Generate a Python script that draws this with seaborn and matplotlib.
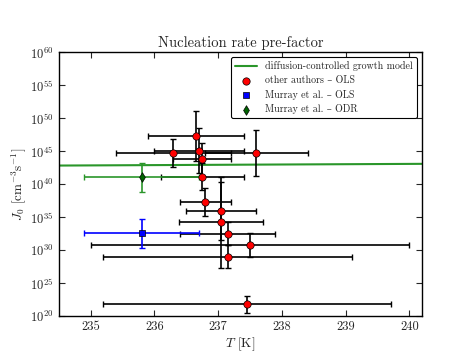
import matplotlib
matplotlib.use("Agg")
import matplotlib.pyplot as plt
import matplotlib.ticker as mticker
import numpy as np
import seaborn as sns

# temperatures [K] and their errors, other authors (OLS)
other_T = [236.65, 236.30, 236.70, 236.75, 236.75, 237.60, 236.80,
           237.05, 237.05, 237.15, 237.50, 237.15, 237.45]
other_dT = [0.75, 0.90, 0.70, 0.45, 0.65, 0.81, 0.40,
            0.55, 0.66, 0.75, 2.50, 1.95, 2.26]
# log10 of J0 and the error in decades
other_logJ = [47.36, 44.73, 45.12, 43.81, 41.17, 44.73, 37.28,
              35.96, 34.24, 32.50, 30.79, 29.01, 21.78]
other_dlogJ = [3.8, 2.15, 3.4, 2.5, 2.1, 3.44, 2.1,
               4.35, 6.9, 1.75, 1.78, 1.75, 1.3]

# Murray et al.
ols_T, ols_dT, ols_logJ, ols_dlogJ = [235.80], [0.90], [32.57], [2.2]
odr_T, odr_dT, odr_logJ, odr_dlogJ = [235.80], [0.90], [41.05], [2.2]

# diffusion-controlled growth model (read at the two axis ends)
model_T = [234.5, 240.2]
model_logJ = [42.84, 43.10]

yticks = [1e20, 1e25, 1e30, 1e35, 1e40, 1e45, 1e50, 1e55, 1e60]
xticks = [235, 236, 237, 238, 239, 240]


def asym(logJ, dlog):
    logJ = np.array(logJ)
    dlog = np.array(dlog)
    J = 10.0 ** logJ
    return J, [J - 10.0 ** (logJ - dlog), 10.0 ** (logJ + dlog) - J]


sns.set_style("ticks")
plt.rcParams["font.family"] = ["cmr10", "DejaVu Serif"]
plt.rcParams["mathtext.fontset"] = "cm"
plt.rcParams["axes.unicode_minus"] = False
plt.rcParams["axes.formatter.use_mathtext"] = True

fig = plt.figure(figsize=(4.69, 3.52), dpi=100)
ax = fig.add_axes([0.125, 0.102, 0.775, 0.749])
ax.set_yscale("log")

# model line
sns.lineplot(x=model_T, y=10.0 ** np.array(model_logJ), color="#2a962a",
             lw=1.5, label="diffusion-controlled growth model", ax=ax)

# error bars
J, err = asym(other_logJ, other_dlogJ)
ax.errorbar(other_T, J, xerr=other_dT, yerr=err, fmt="none", ecolor="k",
            elinewidth=1.2, capsize=2.5, capthick=1.0, zorder=2)
J, err = asym(ols_logJ, ols_dlogJ)
ax.errorbar(ols_T, J, xerr=ols_dT, yerr=err, fmt="none", ecolor="#0000ff",
            elinewidth=1.2, capsize=2.5, capthick=1.0, zorder=2)
J, err = asym(odr_logJ, odr_dlogJ)
ax.errorbar(odr_T, J, xerr=odr_dT, yerr=err, fmt="none", ecolor="#2a962a",
            elinewidth=1.2, capsize=2.5, capthick=1.0, zorder=2)

# markers
sns.scatterplot(x=other_T, y=10.0 ** np.array(other_logJ), color="#ff0000",
                marker="o", s=28, edgecolor="k", linewidth=0.5,
                label="other authors \u2013 OLS", zorder=3, ax=ax)
sns.scatterplot(x=ols_T, y=10.0 ** np.array(ols_logJ), color="#0000ff",
                marker="s", s=24, edgecolor="k", linewidth=0.5,
                label="Murray et al. \u2013 OLS", zorder=3, ax=ax)
sns.scatterplot(x=odr_T, y=10.0 ** np.array(odr_logJ), color="#006400",
                marker="d", s=24, edgecolor="k", linewidth=0.5,
                label="Murray et al. \u2013 ODR", zorder=3, ax=ax)

ax.set_xlim(234.5, 240.2)
ax.set_ylim(1e20, 1e60)
ax.set_xticks(xticks)
ax.set_yticks(yticks)
ax.yaxis.set_minor_locator(mticker.NullLocator())
ax.xaxis.set_major_formatter(mticker.FormatStrFormatter("%d"))
ax.tick_params(direction="in", top=True, right=True, length=4, width=0.8,
               labelsize=9)
for s in ax.spines.values():
    s.set_linewidth(1.0)
    s.set_color("k")

ax.set_title("Nucleation rate pre-factor", fontsize=10.5, pad=4)
ax.set_xlabel("$T$ [K]", fontsize=9.5, labelpad=2)
ax.set_ylabel("$J_0$ [cm$^{-3}$s$^{-1}$]", fontsize=9.5, labelpad=2)

leg = ax.legend(loc="upper right", fontsize=7.2, frameon=True, fancybox=True,
                framealpha=1, edgecolor="k", scatterpoints=1,
                handlelength=2.2, borderpad=0.4, labelspacing=0.45)
leg.get_frame().set_linewidth(0.8)

fig.savefig("out.png", dpi=100)
